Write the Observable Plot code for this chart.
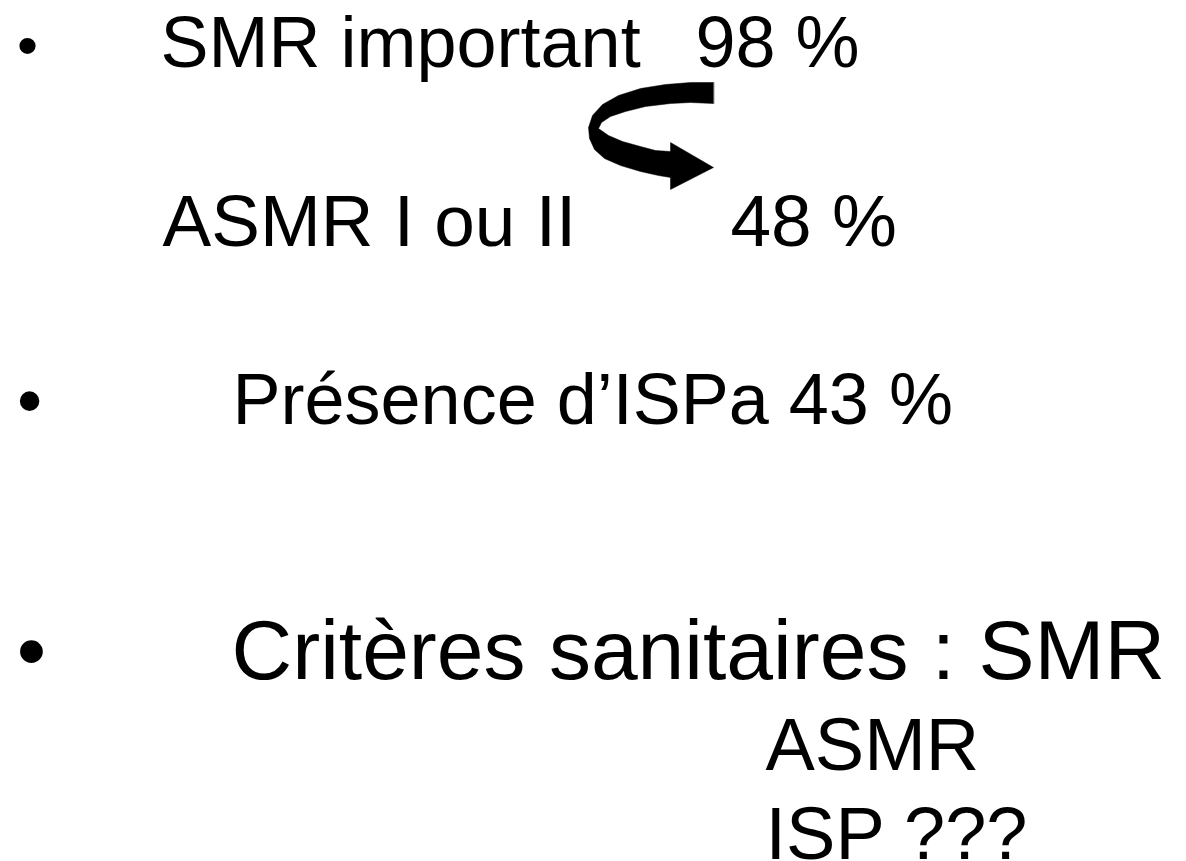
<!DOCTYPE html>
<html><head><meta charset="utf-8">
<script src="https://cdn.jsdelivr.net/npm/d3@7"></script>
<script src="https://cdn.jsdelivr.net/npm/@observablehq/plot@0.6"></script>
<style>html,body{margin:0;padding:0;background:#fff;overflow:hidden}svg{display:block}</style>
</head><body><div id="chart"></div>
<script>
// Slide content
const labels = ["•", "SMR important", "98 %", "ASMR I ou II", "48 %", "•", "Présence d’ISPa 43 %", "•", "Critères sanitaires : SMR", "ASMR", "ISP ???"];
// Layout (slide coordinates, baseline positions)
const labelX = [27, 160, 695, 162, 730, 29, 232, 31, 231, 765, 765];
const labelY = [65, 66, 66, 245, 245, 424, 423, 678, 678, 769, 858];
const labelSize = [60, 72, 72, 73, 73, 72, 72, 84, 84, 74, 74];
const labelAnchor = ["middle", "start", "start", "start", "start", "middle", "start", "middle", "start", "start", "start"];

// Curved arrow outline (slide coordinates)
const arrowX = [713, 690, 665, 640, 618, 602, 592, 588, 589, 594, 604, 620, 640, 658, 670, 670, 713, 670, 670, 655, 640, 622, 608, 598, 601, 610, 625, 645, 670, 690, 713];
const arrowY = [82, 82, 84, 88, 95, 104, 115, 127, 138, 149, 158, 165, 171, 175, 177, 189, 167, 142, 151, 150, 146, 141, 135, 128, 122, 116, 111, 106, 103, 102, 103];

const texts = labels.map((t, i) => ({t, x: labelX[i], y: labelY[i], s: labelSize[i], a: labelAnchor[i]}));
const arrow = arrowX.map((x, i) => ({x, y: arrowY[i]}));

const marks = [
  Plot.line(arrow, {x: "x", y: "y", fill: "black", stroke: "black", strokeWidth: 0.5, curve: "linear-closed"})
];
for (const anchor of ["start", "middle"]) {
  marks.push(Plot.text(texts.filter(d => d.a === anchor), {
    x: "x", y: "y", text: "t", fontSize: "s", textAnchor: anchor, lineAnchor: "bottom",
    fill: "black", fontFamily: "'Liberation Sans', Arial, sans-serif"
  }));
}

const chart = Plot.plot({
  width: 1186, height: 861,
  marginTop: 0, marginRight: 0, marginBottom: 0, marginLeft: 0,
  x: {domain: [0, 1186], range: [0, 1186], axis: null},
  y: {domain: [0, 861], range: [0, 861], axis: null},
  style: {background: "white", overflow: "hidden"},
  marks
});
document.getElementById("chart").appendChild(chart);
</script>
</body></html>
